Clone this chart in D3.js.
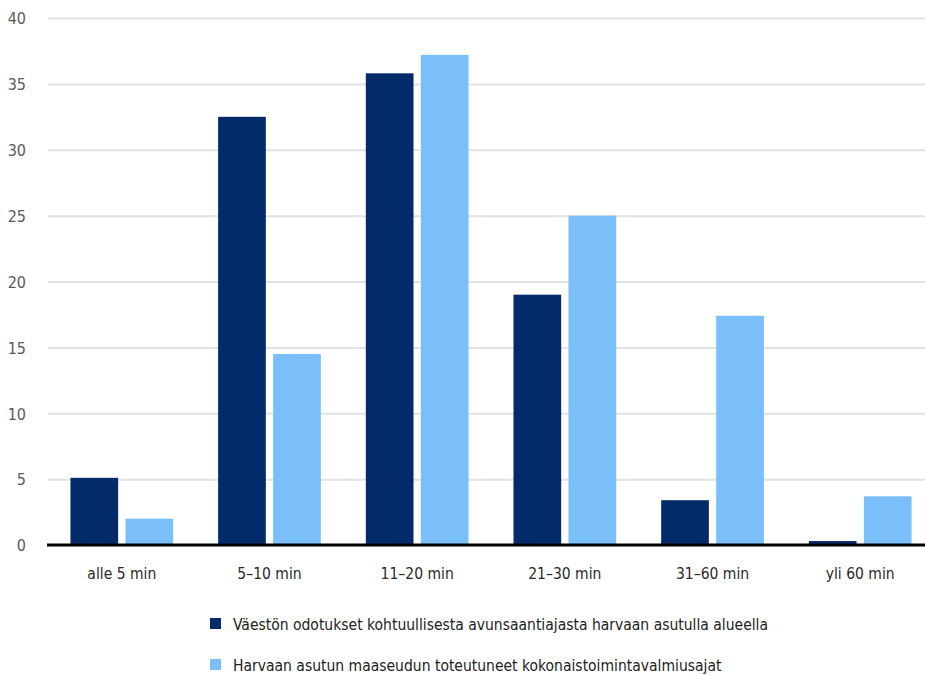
<!DOCTYPE html>
<html>
<head>
<meta charset="utf-8">
<script src="https://cdn.jsdelivr.net/npm/d3@7"></script>
<style>
  html, body { margin: 0; padding: 0; background: #fff; }
  svg { display: block; }
  text { font-family: "DejaVu Sans Condensed", "DejaVu Sans", sans-serif; font-stretch: condensed; }
</style>
</head>
<body>
<svg id="chart" width="925" height="675"></svg>
<script>
const categories = ["alle 5 min", "5–10 min", "11–20 min", "21–30 min", "31–60 min", "yli 60 min"];
const seriesNames = [
  "Väestön odotukset kohtuullisesta avunsaantiajasta harvaan asutulla alueella",
  "Harvaan asutun maaseudun toteutuneet kokonaistoimintavalmiusajat"
];
const expected = [5.1, 32.5, 35.8, 19.0, 3.4, 0.3];
const realized = [2.0, 14.5, 37.2, 25.0, 17.4, 3.7];
const yTicks = [0, 5, 10, 15, 20, 25, 30, 35, 40];
const colors = ["#032b69", "#7abefa"];

const svg = d3.select("#chart");
const W = 925;
const mLeft = 48, plotRight = 934, mTop = 18, mBottom = 545;

const y = d3.scaleLinear().domain([0, 40]).range([mBottom, mTop]);
const x0 = d3.scaleBand().domain(categories).range([mLeft, plotRight]).paddingInner(0.3045).paddingOuter(0.152);
const x1 = d3.scaleBand().domain([0, 1]).range([0, x0.bandwidth()]).paddingInner(0.133).paddingOuter(0);

// gridlines
const yAxis = d3.axisLeft(y).tickValues(yTicks).tickSize(-(W - mLeft)).tickPadding(22).tickFormat(d3.format("d"));
const gy = svg.append("g").attr("transform", `translate(${mLeft},0)`).call(yAxis);
gy.select(".domain").remove();
gy.selectAll(".tick line").attr("stroke", "#e2e2e2").attr("stroke-width", 2);
gy.selectAll(".tick text").attr("fill", "#5a5a5a").style("font-size", "16px").attr("dy", "0.36em");
gy.selectAll(".tick").filter(d => d === 0).select("line").remove();

// bars
const data = categories.map((c, i) => ({ c, vals: [expected[i], realized[i]] }));
const groups = svg.append("g").selectAll("g").data(data).join("g")
  .attr("transform", d => `translate(${x0(d.c)},0)`);
groups.selectAll("rect").data(d => d.vals.map((v, k) => ({ v, k }))).join("rect")
  .attr("x", d => x1(d.k))
  .attr("width", x1.bandwidth())
  .attr("y", d => y(d.v))
  .attr("height", d => y(0) - y(d.v))
  .attr("fill", d => colors[d.k]);

// x axis
const xAxis = d3.axisBottom(x0).tickSize(0);
const gx = svg.append("g").attr("transform", `translate(0,${mBottom})`).call(xAxis);
gx.select(".domain").remove();
gx.selectAll(".tick text").attr("fill", "#2a2a2a").style("font-size", "15.5px").attr("y", 34).attr("dy", 0);
svg.append("line").attr("x1", mLeft - 1).attr("x2", W).attr("y1", mBottom).attr("y2", mBottom)
  .attr("stroke", "#000").attr("stroke-width", 3);

// legend
const legend = svg.append("g").attr("transform", "translate(210,618)");
const li = legend.selectAll("g").data(seriesNames).join("g")
  .attr("transform", (d, i) => `translate(0,${i * 41})`);
li.append("rect").attr("width", 11).attr("height", 11).attr("fill", (d, i) => colors[i]);
li.append("text").attr("x", 23).attr("y", 11.5).attr("fill", "#222").style("font-size", "15.5px").text(d => d);
</script>
</body>
</html>
